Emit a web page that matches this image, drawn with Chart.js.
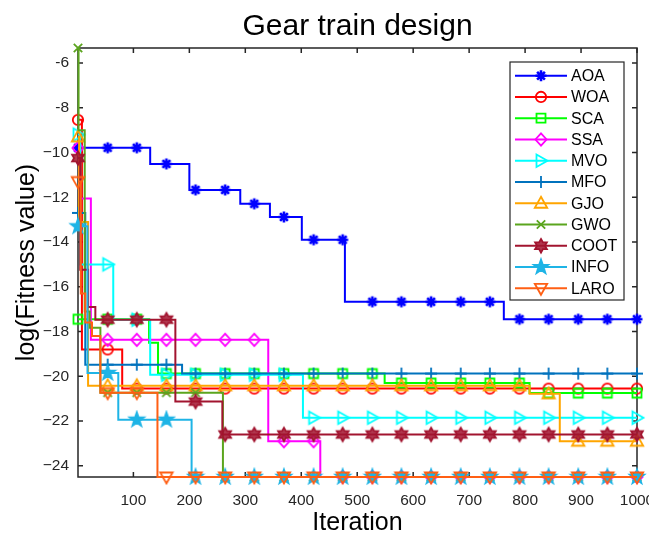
<!DOCTYPE html>
<html>
<head>
<meta charset="utf-8">
<title>Gear train design</title>
<script src="https://cdn.jsdelivr.net/npm/chart.js@4.4.1/dist/chart.umd.min.js"></script>
<style>
  html, body { margin: 0; padding: 0; background: #fff; }
  #wrap { width: 649px; height: 535px; }
</style>
</head>
<body>
<div id="wrap"><canvas id="gearChart" width="649" height="535"></canvas></div>
<script>
// Kurva konvergensi: iterasi saat nilai berubah, dan nilai log(fitness) sesudahnya.
const aoaIter  = [1, 130, 200, 291, 344, 401, 478, 762];
const aoaVal   = [-9.79, -10.51, -11.67, -12.29, -12.88, -13.90, -16.67, -17.45];
const woaIter  = [1, 8, 80];
const woaVal   = [-8.54, -18.8, -20.55];
const scaIter  = [1, 128, 144, 549, 808];
const scaVal   = [-17.45, -18.5, -19.88, -20.3, -20.75];
const ssaIter  = [1, 3, 24, 341, 434];
const ssaVal   = [-9.8, -12.05, -18.37, -22.9, -24.5];
const mvoIter  = [1, 5, 64, 130, 403];
const mvoVal   = [-9.2, -15.0, -17.47, -19.93, -21.85];
const mfoIter  = [1, 14, 187];
const mfoVal   = [-12.7, -19.48, -19.88];
const gjoIter  = [1, 3, 19, 808, 862];
const gjoVal   = [-9.3, -13.1, -20.42, -20.78, -22.9];
const gwoIter  = [1, 2, 13, 22, 41, 260];
const gwoVal   = [-5.33, -9.0, -17.1, -17.83, -20.73, -24.5];
const cootIter = [1, 5, 19, 32, 175, 259];
const cootVal  = [-10.25, -15.24, -16.9, -17.47, -21.13, -22.6];
const infoIter = [1, 18, 73, 204];
const infoVal  = [-13.3, -19.85, -21.94, -24.5];
const laroIter = [1, 6, 14, 26, 41, 143];
const laroVal  = [-11.3, -16.3, -17.6, -18.2, -20.73, -24.5];

const algoNames = ['AOA', 'WOA', 'SCA', 'SSA', 'MVO', 'MFO', 'GJO', 'GWO', 'COOT', 'INFO', 'LARO'];
const algoIters = [aoaIter, woaIter, scaIter, ssaIter, mvoIter, mfoIter, gjoIter, gwoIter, cootIter, infoIter, laroIter];
const algoVals  = [aoaVal, woaVal, scaVal, ssaVal, mvoVal, mfoVal, gjoVal, gwoVal, cootVal, infoVal, laroVal];

// Iterasi tempat penanda digambar, dan label sumbu.
const markerIters = [1, 54, 106, 159, 211, 264, 316, 369, 422, 474, 527, 579, 632, 685, 737, 790, 842, 895, 947, 1000];
const xTicks = [100, 200, 300, 400, 500, 600, 700, 800, 900, 1000];
const yTicks = [-24, -22, -20, -18, -16, -14, -12, -10, -8, -6];
const yTickLabels = ['\u221224', '\u221222', '\u221220', '\u221218', '\u221216', '\u221214', '\u221212', '\u221210', '-8', '-6'];

const warna = ['#0000FF', '#FF0000', '#00FF00', '#FF00FF', '#00FFFF', '#0072BD', '#FFA500', '#5BA51E', '#A2142F', '#1EB4E6', '#FF5F14'];
const bentuk = ['asterisk', 'circle', 'square', 'diamond', 'triRight', 'plus', 'triUp', 'cross', 'hexagram', 'pentagram', 'triDown'];

const FONT = "'Liberation Sans', Arial, Helvetica, sans-serif";

// Nilai kurva tangga pada iterasi tertentu.
function nilaiPada(iters, vals, it) {
    let v = vals[0];
    for (let k = 0; k < iters.length; k++) if (iters[k] <= it) v = vals[k];
    return v;
}

function buatTitik(iters, vals) {
    const xs = Array.from(new Set([...iters, ...markerIters])).sort((a, b) => a - b);
    return xs.map(x => ({ x: x, y: nilaiPada(iters, vals, x), m: markerIters.includes(x) }));
}

function gambarPenanda(g, shape, color) {
    g.strokeStyle = color;
    g.fillStyle = color;
    g.lineWidth = 1.8;
    g.lineJoin = 'miter';
    g.beginPath();
    if (shape === 'asterisk') {
        for (let a = 0; a < 4; a++) {
            const t = a * Math.PI / 4, r = 5.5;
            g.moveTo(Math.cos(t) * r, Math.sin(t) * r);
            g.lineTo(-Math.cos(t) * r, -Math.sin(t) * r);
        }
        g.lineWidth = 2.6;
    } else if (shape === 'circle') {
        g.arc(0, 0, 5.2, 0, Math.PI * 2);
    } else if (shape === 'square') {
        g.rect(-4.5, -4.5, 9, 9);
    } else if (shape === 'diamond') {
        g.moveTo(0, -6.2); g.lineTo(5.6, 0); g.lineTo(0, 6.2); g.lineTo(-5.6, 0); g.closePath();
    } else if (shape === 'triUp') {
        g.moveTo(0, -6.5); g.lineTo(6.2, 4.5); g.lineTo(-6.2, 4.5); g.closePath();
    } else if (shape === 'triDown') {
        g.moveTo(0, 6.5); g.lineTo(6.2, -4.5); g.lineTo(-6.2, -4.5); g.closePath();
    } else if (shape === 'triRight') {
        g.moveTo(6.5, 0); g.lineTo(-4.5, -6.2); g.lineTo(-4.5, 6.2); g.closePath();
    } else if (shape === 'plus') {
        g.moveTo(-6, 0); g.lineTo(6, 0); g.moveTo(0, -6); g.lineTo(0, 6);
    } else if (shape === 'cross') {
        g.moveTo(-4.2, -4.2); g.lineTo(4.2, 4.2); g.moveTo(4.2, -4.2); g.lineTo(-4.2, 4.2);
    } else if (shape === 'hexagram') {
        for (let k = 0; k < 12; k++) {
            const r = k % 2 === 0 ? 6.8 : 3.9, t = -Math.PI / 2 + k * Math.PI / 6;
            k === 0 ? g.moveTo(Math.cos(t) * r, Math.sin(t) * r) : g.lineTo(Math.cos(t) * r, Math.sin(t) * r);
        }
        g.closePath();
        g.globalAlpha = 0.85;
        g.fill();
        g.globalAlpha = 1;
    } else if (shape === 'pentagram') {
        for (let k = 0; k < 10; k++) {
            const r = k % 2 === 0 ? 7.5 : 3.0, t = -Math.PI / 2 + k * Math.PI / 5;
            k === 0 ? g.moveTo(Math.cos(t) * r, Math.sin(t) * r) : g.lineTo(Math.cos(t) * r, Math.sin(t) * r);
        }
        g.closePath();
        g.fill();
    }
    g.stroke();
}

function buatPenanda(shape, color) {
    const c = document.createElement('canvas');
    c.width = 20; c.height = 20;
    const g = c.getContext('2d');
    g.translate(10, 10);
    gambarPenanda(g, shape, color);
    return c;
}

const datasets = algoNames.map((nama, i) => ({
    label: nama,
    data: buatTitik(algoIters[i], algoVals[i]),
    borderColor: warna[i],
    backgroundColor: warna[i],
    borderWidth: 2,
    stepped: 'before',
    fill: false,
    clip: false,
    order: algoNames.length - i,
    pointStyle: buatPenanda(bentuk[i], warna[i]),
    pointRadius: ctx => (ctx.raw && ctx.raw.m ? 6 : 0),
    pointHoverRadius: 0
}));

// Kotak sumbu gaya MATLAB dengan tanda tick menghadap ke dalam.
const kotakSumbu = {
    id: 'kotakSumbu',
    beforeDatasetsDraw(chart) {
        const { ctx, chartArea: a, scales } = chart;
        ctx.save();
        ctx.strokeStyle = '#262626';
        ctx.lineWidth = 1.5;
        ctx.strokeRect(a.left, a.top, a.right - a.left, a.bottom - a.top);
        ctx.beginPath();
        xTicks.forEach(t => {
            const px = scales.x.getPixelForValue(t);
            ctx.moveTo(px, a.bottom); ctx.lineTo(px, a.bottom - 5);
            ctx.moveTo(px, a.top); ctx.lineTo(px, a.top + 5);
        });
        yTicks.forEach(t => {
            const py = scales.y.getPixelForValue(t);
            ctx.moveTo(a.left, py); ctx.lineTo(a.left + 5, py);
            ctx.moveTo(a.right, py); ctx.lineTo(a.right - 5, py);
        });
        ctx.stroke();
        ctx.restore();
    }
};

// Legenda dengan contoh garis dan penanda.
const legendaGaris = {
    id: 'legendaGaris',
    afterDatasetsDraw(chart) {
        const { ctx, chartArea: a } = chart;
        const w = 114, rowH = 21.26, h = 238;
        const left = a.right - 13 - w, top = a.top + 14;
        ctx.save();
        ctx.fillStyle = '#fff';
        ctx.fillRect(left, top, w, h);
        ctx.strokeStyle = '#262626';
        ctx.lineWidth = 1.2;
        ctx.strokeRect(left, top, w, h);
        ctx.font = '16px ' + FONT;
        ctx.textBaseline = 'middle';
        ctx.textAlign = 'left';
        chart.data.datasets.forEach((ds, i) => {
            const y = top + 13.7 + i * rowH;
            ctx.strokeStyle = ds.borderColor;
            ctx.lineWidth = 2;
            ctx.beginPath();
            ctx.moveTo(left + 5, y); ctx.lineTo(left + 57, y);
            ctx.stroke();
            ctx.save();
            ctx.translate(left + 31, y);
            gambarPenanda(ctx, bentuk[i], warna[i]);
            ctx.restore();
            ctx.fillStyle = '#000';
            ctx.fillText(ds.label, left + 61, y + 1);
        });
        ctx.restore();
    }
};

Chart.defaults.font.family = FONT;
Chart.defaults.color = '#262626';

new Chart(document.getElementById('gearChart'), {
    type: 'line',
    data: { datasets: datasets },
    options: {
        responsive: false,
        animation: false,
        events: [],
        layout: { padding: { left: 0, right: 12, top: 0, bottom: 0 } },
        plugins: {
            legend: { display: false },
            tooltip: { enabled: false },
            title: {
                display: true,
                text: 'Gear train design',
                fullSize: false,
                color: '#000',
                font: { size: 30, weight: 'normal', lineHeight: 1.2 },
                padding: { top: 9, bottom: 3 }
            }
        },
        scales: {
            x: {
                type: 'linear',
                min: 1,
                max: 1000,
                grid: { display: false, drawTicks: false, tickLength: 0 },
                border: { display: false },
                afterBuildTicks: s => { s.ticks = xTicks.map(v => ({ value: v })); },
                afterFit: s => { s.height = 58; s.paddingLeft = 0; s.paddingRight = 0; },
                ticks: { padding: 14, maxRotation: 0, font: { size: 15.5 }, color: '#262626', callback: v => String(v) },
                title: { display: true, text: 'Iteration', color: '#000', font: { size: 25, lineHeight: 1 }, padding: { top: 0, bottom: -1 } }
            },
            y: {
                type: 'linear',
                min: -24.5,
                max: -5.33,
                grid: { display: false, drawTicks: false, tickLength: 0 },
                border: { display: false },
                afterBuildTicks: s => { s.ticks = yTicks.map(v => ({ value: v })); },
                afterFit: s => { s.width = 78; s.paddingTop = 0; s.paddingBottom = 0; },
                ticks: {
                    padding: 9,
                    font: { size: 15.5 },
                    color: '#262626',
                    callback: v => yTickLabels[yTicks.indexOf(v)]
                },
                title: { display: true, text: 'log(Fitness value)', color: '#000', font: { size: 25, lineHeight: 1 }, padding: { top: 15, bottom: 0 } }
            }
        }
    },
    plugins: [kotakSumbu, legendaGaris]
});
</script>
</body>
</html>
